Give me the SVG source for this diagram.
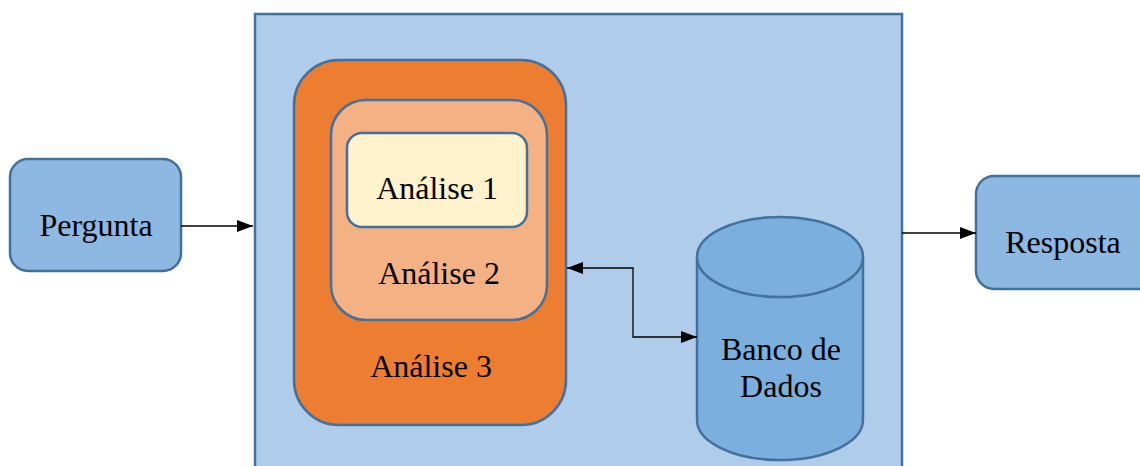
<svg xmlns="http://www.w3.org/2000/svg" width="1140" height="466" viewBox="0 0 1140 466">
<style>
text{font-family:"Liberation Serif","Times New Roman",Times,serif;font-size:32px;fill:#000;text-anchor:middle}
.st{stroke:#41719C;stroke-width:2.5}
.conn{fill:none;stroke:#000;stroke-width:1.3}
</style>
<defs>
<marker id="ah" viewBox="0 0 16 12" refX="16" refY="6" markerWidth="16" markerHeight="12" markerUnits="userSpaceOnUse" orient="auto-start-reverse">
<path d="M0,0 L16,6 L0,12 Z" fill="#000"/>
</marker>
</defs>
<rect width="1140" height="466" fill="#fff"/>
<g id="sistema">
<rect x="255" y="14" width="647" height="470" fill="#AFCDEA" class="st"/>
</g>
<g id="analise3">
<rect x="294" y="60" width="272" height="365" rx="45" fill="#ED7D31" class="st"/>
<text x="431" y="377">Análise 3</text>
</g>
<g id="analise2">
<rect x="331" y="100" width="216" height="220" rx="35" fill="#F4B183" class="st"/>
<text x="439" y="284">Análise 2</text>
</g>
<g id="analise1">
<rect x="347" y="133" width="180" height="94" rx="15" fill="#FFF2CC" class="st"/>
<text x="437" y="199">Análise 1</text>
</g>
<g id="pergunta">
<rect x="10" y="159" width="171" height="112" rx="18" fill="#8DB8E2" class="st"/>
<text x="96" y="236">Pergunta</text>
</g>
<g id="resposta">
<rect x="976" y="176" width="180" height="113" rx="18" fill="#8DB8E2" class="st"/>
<text x="1063" y="253">Resposta</text>
</g>
<g id="banco">
<path d="M697,257 L697,420 A83,40 0 0 0 863,420 L863,257" fill="#7BAFDE" class="st"/>
<ellipse cx="780" cy="257" rx="83" ry="40" fill="#7BAFDE" class="st"/>
<text x="781" y="360">Banco de</text>
<text x="781" y="397">Dados</text>
</g>
<g id="connectors">
<path d="M181,226 L253,226" class="conn" marker-end="url(#ah)"/>
<path d="M902,233 L976,233" class="conn" marker-end="url(#ah)"/>
<path d="M567,268 L633,268 L633,337 L697,337" class="conn" marker-start="url(#ah)" marker-end="url(#ah)"/>
</g>
</svg>
